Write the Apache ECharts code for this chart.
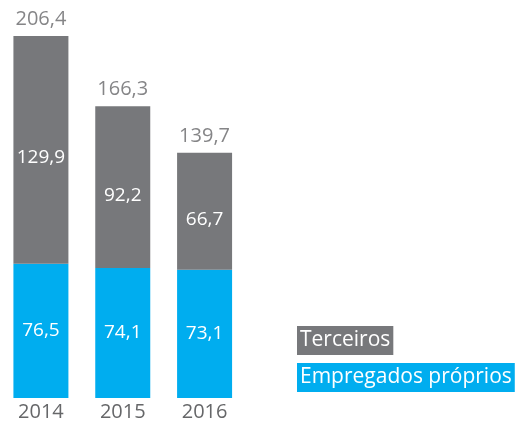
<!DOCTYPE html>
<html>
<head>
<meta charset="utf-8">
<style>html,body{margin:0;padding:0;background:#fff}#c{width:520px;height:427px}</style>
<script src="https://cdn.jsdelivr.net/npm/echarts@6/dist/echarts.min.js"></script>
</head>
<body>
<div id="c"></div>
<script>
var categories = ['2014', '2015', '2016'];
var empregados = [76.5, 74.1, 73.1];
var terceiros = [129.9, 92.2, 66.7];
var totals = [206.4, 166.3, 139.7];

var FONT = 'Open Sans';
var GRAY = '#77787b';
var BLUE = '#00adef';
var TXT = '#666769';
function fmt(v) { return v.toFixed(1).replace('.', ','); }

var chart = echarts.init(document.getElementById('c'));
chart.setOption({
  animation: false,
  textStyle: { fontFamily: FONT },
  grid: { left: -2, top: 36, width: 247.5, bottom: 29, containLabel: false },
  xAxis: {
    type: 'category', data: categories,
    axisLine: { show: false }, axisTick: { show: false },
    axisLabel: { color: TXT, fontSize: 20, fontFamily: FONT, margin: 4 }
  },
  yAxis: { type: 'value', min: 0, max: 206.4, show: false, splitLine: { show: false } },
  legend: {
    orient: 'vertical', left: 292, top: 326, itemGap: 8, selectedMode: false, padding: 0,
    itemWidth: 0, itemHeight: 0,
    textStyle: { fontFamily: FONT, fontSize: 21, color: '#fff' },
    data: [
      { name: 'Terceiros', icon: 'none', textStyle: { backgroundColor: GRAY, padding: [3, 3, 2, 3], color: '#fff', lineHeight: 24 } },
      { name: 'Empregados próprios', icon: 'none', textStyle: { backgroundColor: BLUE, padding: [3, 3, 2, 3], color: '#fff', lineHeight: 24 } }
    ]
  },
  series: [
    {
      name: 'Empregados próprios', type: 'bar', stack: 't', barWidth: 55,
      data: empregados, itemStyle: { color: BLUE },
      label: { show: true, position: 'inside', color: '#fff', fontSize: 19, fontFamily: FONT, formatter: function (p) { return fmt(p.value); } }
    },
    {
      name: 'Terceiros', type: 'bar', stack: 't', barWidth: 55,
      data: terceiros, itemStyle: { color: GRAY },
      label: { show: true, position: 'inside', offset: [0, 8], color: '#fff', fontSize: 19, fontFamily: FONT, formatter: function (p) { return fmt(p.value); } }
    },
    {
      name: 'Total', type: 'scatter', symbolSize: 0, data: totals, silent: true,
      label: { show: true, position: 'top', distance: 7, color: TXT, fontSize: 20, fontFamily: FONT, formatter: function (p) { return fmt(p.value); } }
    }
  ]
});
</script>
</body>
</html>
